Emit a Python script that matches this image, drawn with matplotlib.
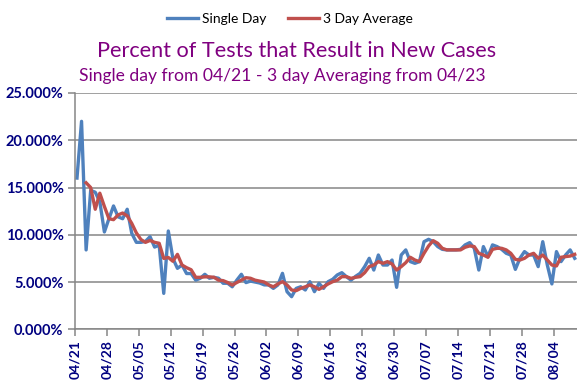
import numpy as np
import pandas as pd
import matplotlib
matplotlib.use("Agg")
import matplotlib.pyplot as plt
from matplotlib.ticker import FuncFormatter, FixedLocator

# ---- data (percent) ----
start_date = "2020-04-21"
single_day = [
    16.0, 22.0, 8.4, 14.7, 14.5, 13.5, 10.3, 11.7, 13.05, 11.9,
    11.7, 12.7, 10.15, 9.2, 9.2, 9.3, 9.8, 8.7, 8.9, 3.8,
    10.4, 7.5, 6.45, 6.8, 5.9, 5.9, 5.2, 5.4, 5.82, 5.4,
    5.5, 5.4, 4.87, 4.87, 4.5, 5.2, 5.82, 4.94, 5.1, 5.0,
    4.9, 4.7, 4.69, 4.33, 4.69, 5.92, 3.98, 3.45, 4.33, 4.5,
    4.16, 5.04, 3.98, 4.86, 4.33, 5.04, 5.29, 5.75, 5.99, 5.57,
    5.2, 5.6, 5.92, 6.63, 7.51, 6.27, 7.86, 6.8, 6.8, 7.33,
    4.44, 7.86, 8.4, 7.16, 6.98, 7.16, 9.27, 9.52, 9.27, 8.75,
    8.46, 8.4, 8.4, 8.4, 8.46, 8.93, 9.17, 8.57, 6.27, 8.75,
    7.69, 8.93, 8.75, 8.46, 8.04, 7.86, 6.34, 7.51, 8.22, 7.86,
    7.86, 6.63, 9.27, 6.8, 4.8, 8.22, 7.16, 7.86, 8.4, 7.51,
]
three_day_avg = [  # from 04/23
    15.5, 15.0, 12.7, 14.4, 13.0, 11.7, 11.6, 12.1, 12.3, 12.0,
    11.2, 10.2, 9.5, 9.2, 9.4, 9.2, 9.1, 7.5, 7.6, 7.2,
    7.93, 6.8, 6.52, 6.3, 5.5, 5.5, 5.55, 5.55, 5.5, 5.2,
    5.15, 4.95, 4.68, 4.95, 5.2, 5.46, 5.4, 5.2, 5.1, 5.0,
    4.69, 4.5, 4.8, 5.04, 4.69, 4.16, 4.09, 4.33, 4.5, 4.69,
    4.5, 4.23, 4.5, 4.8, 5.04, 5.2, 5.57, 5.57, 5.39, 5.5,
    5.57, 5.99, 6.63, 6.8, 7.16, 6.98, 7.16, 6.91, 6.27, 6.63,
    7.05, 7.62, 7.33, 7.16, 8.04, 8.82, 9.38, 9.1, 8.57, 8.4,
    8.4, 8.4, 8.4, 8.68, 8.82, 8.75, 8.04, 7.86, 7.62, 8.46,
    8.57, 8.57, 8.4, 8.04, 7.4, 7.33, 7.51, 7.86, 8.04, 7.51,
    7.86, 7.33, 6.8, 6.7, 7.62, 7.69, 7.75, 7.93,
]
y_ticks = [0, 5, 10, 15, 20, 25]

dates = pd.date_range(start_date, periods=len(single_day), freq="D")
x_single = np.arange(len(single_day))
x_avg = np.arange(2, 2 + len(three_day_avg))

BLUE = "#4F81BD"
RED = "#C0504D"
NAVY = "#000080"
PURPLE = "#800080"
GRID = "#868686"

plt.rcParams["font.family"] = ["Lato", "DejaVu Sans"]

fig = plt.figure(figsize=(5.77, 3.84), dpi=100)
ax = fig.add_axes([74.7 / 577, 1 - 329.3 / 384, (577 - 74.7) / 577, (329.3 - 93) / 384])

ax.plot(x_single, single_day, color=BLUE, lw=2.4, label="Single Day", solid_joinstyle="round")
ax.plot(x_avg, three_day_avg, color=RED, lw=2.4, label="3 Day Average", solid_joinstyle="round")

ax.set_ylim(0, 25)
ax.set_xlim(-0.5, len(single_day) - 0.5)
ax.yaxis.set_major_locator(FixedLocator(y_ticks))
ax.yaxis.set_major_formatter(FuncFormatter(lambda v, p: f"{v:.3f}%"))
ax.grid(axis="y", color=GRID, lw=1.1)
ax.set_axisbelow(True)

tick_idx = np.arange(0, len(single_day), 7)
ax.set_xticks(tick_idx - 0.5)
ax.set_xticklabels([dates[i].strftime("%m/%d") for i in tick_idx], rotation=90)

for s in ["top", "right"]:
    ax.spines[s].set_visible(False)
for s in ["left", "bottom"]:
    ax.spines[s].set_color(GRID)
    ax.spines[s].set_linewidth(1.1)

ax.tick_params(axis="both", colors=GRID, length=5, width=1.1, direction="out")
for lab in ax.get_yticklabels():
    lab.set_color(NAVY); lab.set_fontweight("bold"); lab.set_fontsize(10.5)
for lab in ax.get_xticklabels():
    lab.set_color(NAVY); lab.set_fontweight("bold"); lab.set_fontsize(10)
ax.tick_params(axis="y", pad=3)
ax.tick_params(axis="x", pad=3)

fig.text(297 / 577, 1 - 51 / 384, "Percent of Tests that Result in New Cases",
         ha="center", va="center", color=PURPLE, fontsize=15.6)
fig.text(282 / 577, 1 - 76 / 384, "Single day from 04/21 - 3 day Averaging from 04/23",
         ha="center", va="center", color=PURPLE, fontsize=12.6)

fig.legend(loc="center", bbox_to_anchor=(290 / 577, 1 - 19 / 384), ncol=2, frameon=False,
           fontsize=10, handlelength=2.2, handletextpad=0.3, columnspacing=1.6)

fig.savefig("out.png", dpi=100)
